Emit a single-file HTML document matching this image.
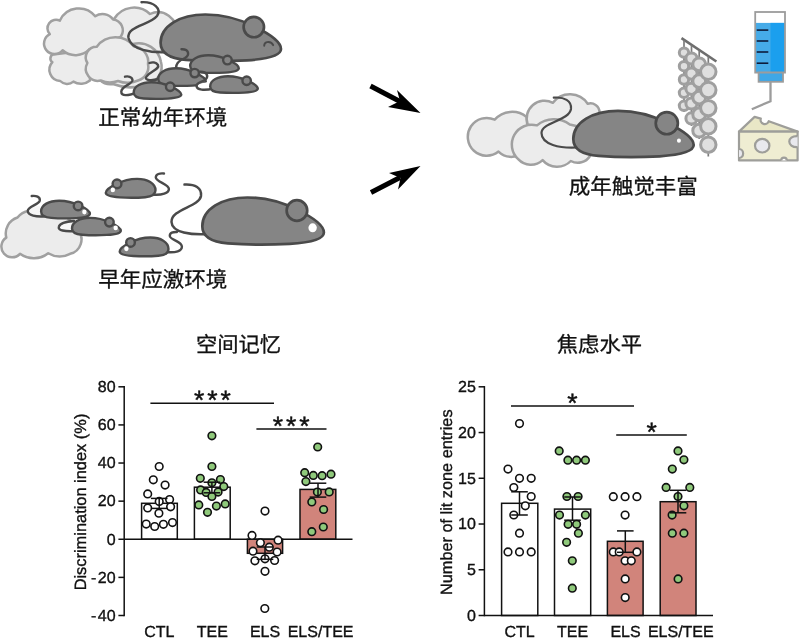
<!DOCTYPE html>
<html><head><meta charset="utf-8"><title>figure</title>
<style>html,body{margin:0;padding:0;background:#fff;overflow:hidden}svg{display:block;position:absolute;left:0;top:0;font-family:"Liberation Sans",sans-serif;}svg{will-change:transform}text{text-rendering:geometricPrecision}</style>
</head><body>
<svg width="799" height="643" viewBox="0 0 799 643">
<rect width="799" height="643" fill="#fff"/>
<defs>
<path id="mb" vector-effect="non-scaling-stroke" d="M0,30 C0,12 20,0 46,0 C64,0 82,5 97,13 C111,20 124,28 124,36.5 C124,43 112,47 89,48.5 C70,49.5 45,49.5 26,48 C8,46.5 0,40 0,30 Z"/>
</defs>
<path d="M114.0,19.0 A23.3,23.3 0 0 1 150.0,14.0 A18.2,18.2 0 0 1 176.0,33.0 A14.1,14.1 0 0 1 172.0,52.0 A327.0,327.0 0 0 1 120.0,47.0 A17.9,17.9 0 0 1 114.0,19.0 Z" fill="#ececec" stroke="#a0a0a0" stroke-width="2.50" stroke-linejoin="round"/>
<path d="M53.2,54.4 A218.4,218.4 0 0 1 88.0,52.0 A178.8,178.8 0 0 1 90.0,80.5 A14.3,14.3 0 0 1 73.4,81.6 A9.6,9.6 0 0 1 60.2,81.0 A11.2,11.2 0 0 1 52.4,62.2 A4.4,4.4 0 0 1 53.2,54.4 Z" fill="#ececec" stroke="#a0a0a0" stroke-width="2.50" stroke-linejoin="round"/>
<path d="M49.8,34.2 A8.6,8.6 0 0 1 59.9,20.6 A20.9,20.9 0 0 1 95.2,16.3 A13.2,13.2 0 0 1 113.1,19.4 A11.0,11.0 0 0 1 120.9,36.5 A141.2,141.2 0 0 1 89.6,49.2 A19.6,19.6 0 0 1 62.6,50.3 A10.5,10.5 0 1 1 49.8,34.2 Z" fill="#ececec" stroke="#a0a0a0" stroke-width="2.50" stroke-linejoin="round"/>
<path d="M133.0,44.0 A22.6,22.6 0 0 1 161.0,62.0 A17.2,17.2 0 0 1 150.0,83.0 A48.1,48.1 0 0 1 113.0,84.0 A15.0,15.0 0 0 1 100.0,80.0 A305.7,305.7 0 0 1 133.0,44.0 Z" fill="#ececec" stroke="#a0a0a0" stroke-width="2.50" stroke-linejoin="round"/>
<path d="M96.8,46.7 A23.3,23.3 0 0 1 134.0,46.5 A15.2,15.2 0 0 1 148.0,64.0 A14.0,14.0 0 0 1 138.0,80.5 A26.0,26.0 0 0 1 118.0,81.0 A22.5,22.5 0 0 1 100.7,80.5 A12.0,12.0 0 0 1 87.4,63.0 A10.7,10.7 0 0 1 96.8,46.7 Z" fill="#ececec" stroke="#a0a0a0" stroke-width="2.50" stroke-linejoin="round"/>
<path d="M166,52.3 C152,53 131,50 128.5,38 C126.5,26 150,25 157,16 C162,9 154,1.5 141.5,2.2" fill="none" stroke="#4a4a4a" stroke-width="2.40" stroke-linecap="round" stroke-linejoin="round"/>
<path d="M160.6,42.8 C160.6,25.8 180.0,14.5 205.3,14.5 C222.7,14.5 240.2,19.2 254.8,26.8 C268.4,33.4 281.0,41.0 281.0,49.0 C281.0,55.1 269.3,58.9 247.0,60.3 C228.6,61.3 204.3,61.3 185.8,59.9 C168.4,58.4 160.6,52.3 160.6,42.8 Z" fill="#858585" stroke="#4a4a4a" stroke-width="2.70" stroke-linejoin="round"/>
<circle cx="253.81" cy="27.07" r="10.20" fill="#858585" stroke="#4a4a4a" stroke-width="2.70"/>
<path d="M264.2,45.8 C264.2,43.5 265,42.5 267,42.1 C270,41.6 272.2,42.8 273.2,45.2" fill="none" stroke="#4a4a4a" stroke-width="1.9" stroke-linecap="round"/>
<path d="M176,68 C176,63 180,60 185,58 C190,55 189,49 181.5,49.3" fill="none" stroke="#4a4a4a" stroke-width="2.40" stroke-linecap="round" stroke-linejoin="round"/>
<path d="M190.2,66.0 C190.2,59.5 198.0,55.2 208.2,55.2 C215.3,55.2 222.3,57.0 228.2,59.9 C233.7,62.4 238.8,65.3 238.8,68.3 C238.8,70.6 234.1,72.1 225.1,72.6 C217.6,73.0 207.8,73.0 200.4,72.4 C193.3,71.9 190.2,69.6 190.2,66.0 Z" fill="#858585" stroke="#4a4a4a" stroke-width="2.40" stroke-linejoin="round"/>
<circle cx="227.43" cy="60.05" r="4.31" fill="#858585" stroke="#4a4a4a" stroke-width="2.40"/>
<path d="M162,78 C150,82 143,80 147,76 C151,71 160,69 158,65 C156,62 152,62 149.5,63" fill="none" stroke="#4a4a4a" stroke-width="2.40" stroke-linecap="round" stroke-linejoin="round"/>
<path d="M158.2,79.0 C158.2,72.5 165.9,68.2 175.9,68.2 C182.8,68.2 189.7,70.0 195.4,72.9 C200.8,75.4 205.8,78.3 205.8,81.3 C205.8,83.6 201.2,85.1 192.4,85.6 C185.1,86.0 175.5,86.0 168.2,85.4 C161.3,84.9 158.2,82.6 158.2,79.0 Z" fill="#858585" stroke="#4a4a4a" stroke-width="2.40" stroke-linejoin="round"/>
<circle cx="194.67" cy="73.05" r="4.22" fill="#858585" stroke="#4a4a4a" stroke-width="2.40"/>
<path d="M197,84 L209,82 L210,88.5 L200,89.8 Z" fill="#fff"/>
<path d="M214,88.3 C204,91 197,90 196.5,86 C196,82.5 203,82 206,79 C208.5,76 207,71.5 200,71.8" fill="none" stroke="#4a4a4a" stroke-width="2.40" stroke-linecap="round" stroke-linejoin="round"/>
<path d="M210.2,86.4 C210.2,80.3 217.9,76.2 227.9,76.2 C234.8,76.2 241.7,77.9 247.4,80.6 C252.8,83.0 257.8,85.7 257.8,88.6 C257.8,90.8 253.2,92.1 244.4,92.6 C237.1,93.0 227.5,93.0 220.2,92.5 C213.3,92.0 210.2,89.8 210.2,86.4 Z" fill="#858585" stroke="#4a4a4a" stroke-width="2.40" stroke-linejoin="round"/>
<circle cx="246.67" cy="80.77" r="4.22" fill="#858585" stroke="#4a4a4a" stroke-width="2.40"/>
<path d="M137,92.3 C128,96 121,96.5 121.3,91.5 C121.5,86 133,84 132.5,80 C132,76.5 128,76 125,76.7" fill="none" stroke="#4a4a4a" stroke-width="2.40" stroke-linecap="round" stroke-linejoin="round"/>
<path d="M133.7,92.4 C133.7,86.3 141.4,82.2 151.4,82.2 C158.3,82.2 165.2,83.9 170.9,86.6 C176.3,89.0 181.3,91.7 181.3,94.6 C181.3,96.8 176.7,98.1 167.9,98.6 C160.6,99.0 151.0,99.0 143.7,98.5 C136.8,98.0 133.7,95.8 133.7,92.4 Z" fill="#858585" stroke="#4a4a4a" stroke-width="2.40" stroke-linejoin="round"/>
<circle cx="170.17" cy="86.77" r="4.22" fill="#858585" stroke="#4a4a4a" stroke-width="2.40"/>
<text x="98.30" y="125.20" font-size="21.5" fill="#111" stroke="#111" stroke-width="0.3" style="font-family:'Liberation Sans','Noto Sans CJK SC',sans-serif">正常幼年环境</text>
<path d="M20.0,253.8 A10.7,10.7 0 1 1 6.3,237.6 A16.7,16.7 0 0 1 17.5,217.5 A17.5,17.5 0 0 1 41.3,213.8 A95.0,95.0 0 0 1 64.0,214.5 A87.3,87.3 0 0 1 78.0,230.0 A14.7,14.7 0 0 1 70.1,253.8 A22.5,22.5 0 0 1 48.2,253.2 A23.1,23.1 0 0 1 20.0,253.8 Z" fill="#ececec" stroke="#a0a0a0" stroke-width="2.50" stroke-linejoin="round"/>
<path d="M42,216.5 C36,217 28,215.5 27.8,211 C28,208 33,206.5 40,206 Z" fill="#f6f6f6" stroke="none"/>
<path d="M45,216.3 C36,217 28,215.5 27.8,211 C27.6,206 39,205 39.8,200.5 C40.3,197 36,195.3 31.7,196" fill="none" stroke="#4a4a4a" stroke-width="2.40" stroke-linecap="round" stroke-linejoin="round"/>
<path d="M41.1,211.5 C41.1,205.0 49.0,200.7 59.2,200.7 C66.3,200.7 73.4,202.5 79.3,205.4 C84.8,207.9 89.9,210.8 89.9,213.8 C89.9,216.1 85.2,217.6 76.1,218.1 C68.6,218.5 58.8,218.5 51.3,217.9 C44.2,217.4 41.1,215.1 41.1,211.5 Z" fill="#858585" stroke="#4a4a4a" stroke-width="2.40" stroke-linejoin="round"/>
<circle cx="78.09" cy="205.91" r="4.33" fill="#858585" stroke="#4a4a4a" stroke-width="2.40"/>
<ellipse cx="84.39" cy="212.01" rx="2.20" ry="2.40" fill="#fff"/>
<path d="M72,231 C64,232 58,230 58.8,227 C59.5,223.5 66,221.5 74,221 Z" fill="#f8f8f8" stroke="none"/>
<path d="M76,231 C64,232 58,230 58.8,227 C59.5,223.5 66,221.5 74,221" fill="none" stroke="#4a4a4a" stroke-width="2.40" stroke-linecap="round" stroke-linejoin="round"/>
<path d="M72.0,228.4 C72.0,222.1 79.9,217.9 90.1,217.9 C97.2,217.9 104.3,219.7 110.2,222.5 C115.7,224.9 120.8,227.7 120.8,230.7 C120.8,233.0 116.1,234.4 107.0,234.9 C99.5,235.3 89.7,235.3 82.2,234.7 C75.1,234.2 72.0,231.9 72.0,228.4 Z" fill="#858585" stroke="#4a4a4a" stroke-width="2.40" stroke-linejoin="round"/>
<circle cx="109.39" cy="222.11" r="4.33" fill="#858585" stroke="#4a4a4a" stroke-width="2.40"/>
<ellipse cx="115.68" cy="227.90" rx="2.20" ry="2.40" fill="#fff"/>
<path d="M152,194.5 C162,195.5 169,193 168.9,189 C168.8,184 156,182 155.8,177.5 C155.7,174 160,173 164,173.5" fill="none" stroke="#4a4a4a" stroke-width="2.40" stroke-linecap="round" stroke-linejoin="round"/>
<path d="M155.5,190.3 C155.5,183.5 147.5,178.9 137.1,178.9 C129.8,178.9 122.6,180.8 116.6,183.9 C111.0,186.5 105.8,189.6 105.8,192.8 C105.8,195.3 110.6,196.8 119.8,197.4 C127.4,197.8 137.5,197.8 145.1,197.2 C152.3,196.6 155.5,194.2 155.5,190.3 Z" fill="#858585" stroke="#4a4a4a" stroke-width="2.40" stroke-linejoin="round"/>
<circle cx="117.02" cy="183.86" r="4.41" fill="#858585" stroke="#4a4a4a" stroke-width="2.40"/>
<ellipse cx="112.81" cy="189.97" rx="2.20" ry="2.40" fill="#fff"/>
<path d="M166,252 C176,253 182,251 181.9,246.5 C181.8,241 170,240 169.8,236 C169.7,232.5 173,231.8 177,232" fill="none" stroke="#4a4a4a" stroke-width="2.40" stroke-linecap="round" stroke-linejoin="round"/>
<path d="M168.5,248.9 C168.5,242.1 160.6,237.5 150.4,237.5 C143.3,237.5 136.2,239.4 130.3,242.5 C124.8,245.1 119.7,248.2 119.7,251.4 C119.7,253.9 124.4,255.4 133.5,256.0 C141.0,256.4 150.8,256.4 158.3,255.8 C165.4,255.2 168.5,252.8 168.5,248.9 Z" fill="#858585" stroke="#4a4a4a" stroke-width="2.40" stroke-linejoin="round"/>
<circle cx="130.52" cy="242.46" r="4.33" fill="#858585" stroke="#4a4a4a" stroke-width="2.40"/>
<ellipse cx="126.39" cy="248.76" rx="2.20" ry="2.40" fill="#fff"/>
<path d="M207,234.2 C192,235 172,233 171.5,222 C171,209 199,207 201,196 C202,188 195,184 184.5,184.6" fill="none" stroke="#4a4a4a" stroke-width="2.50" stroke-linecap="round" stroke-linejoin="round"/>
<path d="M202.3,226.2 C202.3,209.0 221.9,197.5 247.4,197.5 C265.1,197.5 282.7,202.3 297.4,209.9 C311.2,216.6 323.9,224.2 323.9,232.4 C323.9,238.6 312.1,242.4 289.6,243.8 C270.9,244.8 246.4,244.8 227.8,243.3 C210.1,241.9 202.3,235.7 202.3,226.2 Z" fill="#858585" stroke="#4a4a4a" stroke-width="2.70" stroke-linejoin="round"/>
<circle cx="296.93" cy="210.49" r="10.30" fill="#858585" stroke="#4a4a4a" stroke-width="2.70"/>
<ellipse cx="312.62" cy="227.87" rx="4.20" ry="4.50" fill="#fff"/>
<text x="98.30" y="287.20" font-size="21.5" fill="#111" stroke="#111" stroke-width="0.3" style="font-family:'Liberation Sans','Noto Sans CJK SC',sans-serif">早年应激环境</text>
<path d="M370.5,86 L400,101.5" stroke="#000" stroke-width="5" fill="none"/>
<path d="M420.5,113 L397,90 L400,101 L388,107 Z" fill="#000"/>
<path d="M371,192.5 L400,177.5" stroke="#000" stroke-width="5" fill="none"/>
<path d="M420.5,166 L389,173 L400.5,178 L398,189.5 Z" fill="#000"/>
<path d="M494.7,119.7 A23.2,23.2 0 0 1 526.6,116.9 A138.4,138.4 0 0 1 526.0,150.0 A18.7,18.7 0 0 1 498.5,151.6 A18.9,18.9 0 1 1 494.7,119.7 Z" fill="#ececec" stroke="#a0a0a0" stroke-width="2.50" stroke-linejoin="round"/>
<path d="M527.6,124.4 A17.9,17.9 0 0 1 552.9,102.8 A21.3,21.3 0 0 1 587.7,103.8 A9.0,9.0 0 0 1 599.5,112.0 A155.8,155.8 0 0 1 590.0,135.0 A396.2,396.2 0 0 1 527.6,124.4 Z" fill="#ececec" stroke="#a0a0a0" stroke-width="2.50" stroke-linejoin="round"/>
<path d="M518.2,159.2 A19.9,19.9 0 0 1 537.0,125.4 A26.9,26.9 0 0 1 569.8,124.4 A131.2,131.2 0 0 1 590.0,130.0 A162.8,162.8 0 0 1 590.0,156.0 A14.4,14.4 0 0 1 570.8,161.0 A19.1,19.1 0 0 1 542.6,160.1 A17.1,17.1 0 0 1 518.2,159.2 Z" fill="#ececec" stroke="#a0a0a0" stroke-width="2.50" stroke-linejoin="round"/>
<path d="M577,147.5 C560,148.5 541.5,144.5 541.5,133 C541.5,122 569,121 571,109 C572,101 564,96.5 553.8,97.7" fill="none" stroke="#4a4a4a" stroke-width="2.20" stroke-linecap="round" stroke-linejoin="round"/>
<path d="M573.3,139.0 C573.3,122.1 592.7,110.8 618.0,110.8 C635.4,110.8 652.9,115.5 667.5,123.0 C681.1,129.6 693.7,137.1 693.7,145.1 C693.7,151.2 682.0,154.9 659.7,156.3 C641.3,157.3 617.0,157.3 598.5,155.9 C581.1,154.5 573.3,148.4 573.3,139.0 Z" fill="#858585" stroke="#4a4a4a" stroke-width="2.70" stroke-linejoin="round"/>
<circle cx="666.80" cy="123.19" r="11.07" fill="#858585" stroke="#4a4a4a" stroke-width="2.70"/>
<ellipse cx="678.94" cy="140.65" rx="2.00" ry="2.10" fill="#fff"/>
<text x="568.80" y="193.60" font-size="21.5" fill="#111" stroke="#111" stroke-width="0.3" style="font-family:'Liberation Sans','Noto Sans CJK SC',sans-serif">成年触觉丰富</text>
<path d="M681.5,38.2 L716.4,61.5" stroke="#6e6e6e" stroke-width="2.6" fill="none"/>
<path d="M684.0,40.5 L684.0,112.0" stroke="#7c7c7c" stroke-width="1.7"/>
<circle cx="684.0" cy="52.6" r="4.7" fill="#dfdfdf" stroke="#9f9f9f" stroke-width="3"/>
<circle cx="684.0" cy="66.2" r="4.7" fill="#dfdfdf" stroke="#9f9f9f" stroke-width="3"/>
<circle cx="684.0" cy="79.5" r="4.7" fill="#dfdfdf" stroke="#9f9f9f" stroke-width="3"/>
<circle cx="684.0" cy="92.8" r="4.7" fill="#dfdfdf" stroke="#9f9f9f" stroke-width="3"/>
<circle cx="684.0" cy="105.8" r="4.7" fill="#dfdfdf" stroke="#9f9f9f" stroke-width="3"/>
<path d="M691.5,45.5 L691.5,126.0" stroke="#7c7c7c" stroke-width="1.7"/>
<circle cx="691.5" cy="58.5" r="5.6" fill="#dfdfdf" stroke="#9f9f9f" stroke-width="3"/>
<circle cx="691.5" cy="73.6" r="5.6" fill="#dfdfdf" stroke="#9f9f9f" stroke-width="3"/>
<circle cx="691.5" cy="88.8" r="5.6" fill="#dfdfdf" stroke="#9f9f9f" stroke-width="3"/>
<circle cx="691.5" cy="103.5" r="5.6" fill="#dfdfdf" stroke="#9f9f9f" stroke-width="3"/>
<circle cx="691.5" cy="118.4" r="5.6" fill="#dfdfdf" stroke="#9f9f9f" stroke-width="3"/>
<path d="M699.2,50.5 L699.2,139.0" stroke="#7c7c7c" stroke-width="1.7"/>
<circle cx="699.2" cy="64.3" r="6.4" fill="#dfdfdf" stroke="#9f9f9f" stroke-width="3"/>
<circle cx="699.2" cy="81.1" r="6.4" fill="#dfdfdf" stroke="#9f9f9f" stroke-width="3"/>
<circle cx="699.2" cy="97.6" r="6.4" fill="#dfdfdf" stroke="#9f9f9f" stroke-width="3"/>
<circle cx="699.2" cy="114.4" r="6.4" fill="#dfdfdf" stroke="#9f9f9f" stroke-width="3"/>
<circle cx="699.2" cy="130.7" r="6.4" fill="#dfdfdf" stroke="#9f9f9f" stroke-width="3"/>
<path d="M708.3,56.5 L708.3,156.5" stroke="#7c7c7c" stroke-width="1.7"/>
<circle cx="708.3" cy="71.8" r="7.7" fill="#dfdfdf" stroke="#9f9f9f" stroke-width="3"/>
<circle cx="708.3" cy="90.0" r="7.7" fill="#dfdfdf" stroke="#9f9f9f" stroke-width="3"/>
<circle cx="708.3" cy="108.1" r="7.7" fill="#dfdfdf" stroke="#9f9f9f" stroke-width="3"/>
<circle cx="708.3" cy="126.3" r="7.7" fill="#dfdfdf" stroke="#9f9f9f" stroke-width="3"/>
<circle cx="708.3" cy="144.7" r="7.7" fill="#dfdfdf" stroke="#9f9f9f" stroke-width="3"/>
<rect x="755.2" y="12" width="29.8" height="60.6" fill="#fff"/>
<rect x="755.2" y="22.9" width="29.8" height="49.7" fill="#46abe8"/>
<rect x="770.5" y="22.9" width="14.5" height="49.7" fill="#1b9fee"/>
<path d="M756.7,30.1 L768.3,30.1" stroke="#0d1b3a" stroke-width="1.6"/>
<path d="M756.7,41.0 L768.3,41.0" stroke="#0d1b3a" stroke-width="1.6"/>
<path d="M756.7,52.0 L768.3,52.0" stroke="#0d1b3a" stroke-width="1.6"/>
<path d="M756.7,63.2 L768.3,63.2" stroke="#0d1b3a" stroke-width="1.6"/>
<rect x="755.2" y="12" width="29.8" height="60.6" fill="none" stroke="#9c9c9c" stroke-width="1.8"/>
<rect x="758.6" y="72.6" width="24.4" height="9.2" fill="#3fa7e6" stroke="#9c9c9c" stroke-width="1.8"/>
<path d="M770.5,82 L770.5,101.2 L751.8,109.2" fill="none" stroke="#9c9c9c" stroke-width="2.3"/>
<path d="M739,131.6 L754.6,116.9 L760.8,118.6 A3.6,3.6 0 0 0 768.8,121.2 L797.6,131.6 Z" fill="#e9e7c6" stroke="#9e9e9a" stroke-width="2.2" stroke-linejoin="round"/>
<rect x="739" y="131.6" width="58.6" height="28.8" fill="#efedd2" stroke="#9e9e9a" stroke-width="2.2" stroke-linejoin="round"/>
<ellipse cx="762.2" cy="145.7" rx="7.2" ry="6.8" fill="#e9e9ee" stroke="#9e9e9a" stroke-width="2.2"/>
<path d="M797.6,136.2 C786.5,135.5 786.5,147.6 797.6,147.2" fill="#e9e9ee" stroke="#9e9e9a" stroke-width="2.2"/>
<path d="M739,149 C744.5,149 744.5,158 739,158" fill="#e9e9ee" stroke="#9e9e9a" stroke-width="2.2"/>
<path d="M781.2,160.4 A2.8,2.8 0 0 1 786.8,160.4" fill="#fff" stroke="#9e9e9a" stroke-width="2.2"/>
<text x="195.90" y="352.20" font-size="21.3" fill="#111" stroke="#111" stroke-width="0.3" style="font-family:'Liberation Sans','Noto Sans CJK SC',sans-serif">空间记忆</text>
<path d="M124.20,386.05 L124.20,616.25" stroke="#111" stroke-width="1.50" fill="none"/>
<path d="M118.40,386.80 L124.20,386.80" stroke="#111" stroke-width="1.50" fill="none"/>
<text transform="translate(115.60,392.10) scale(1.000,1)" text-anchor="end" font-size="16.00" fill="#111" stroke="#111" stroke-width="0.35">80</text>
<path d="M118.40,424.92 L124.20,424.92" stroke="#111" stroke-width="1.50" fill="none"/>
<text transform="translate(115.60,430.22) scale(1.000,1)" text-anchor="end" font-size="16.00" fill="#111" stroke="#111" stroke-width="0.35">60</text>
<path d="M118.40,463.03 L124.20,463.03" stroke="#111" stroke-width="1.50" fill="none"/>
<text transform="translate(115.60,468.33) scale(1.000,1)" text-anchor="end" font-size="16.00" fill="#111" stroke="#111" stroke-width="0.35">40</text>
<path d="M118.40,501.15 L124.20,501.15" stroke="#111" stroke-width="1.50" fill="none"/>
<text transform="translate(115.60,506.45) scale(1.000,1)" text-anchor="end" font-size="16.00" fill="#111" stroke="#111" stroke-width="0.35">20</text>
<path d="M118.40,539.27 L124.20,539.27" stroke="#111" stroke-width="1.50" fill="none"/>
<text transform="translate(115.60,544.57) scale(1.000,1)" text-anchor="end" font-size="16.00" fill="#111" stroke="#111" stroke-width="0.35">0</text>
<path d="M118.40,577.38 L124.20,577.38" stroke="#111" stroke-width="1.50" fill="none"/>
<text transform="translate(115.60,582.68) scale(1.000,1)" text-anchor="end" font-size="16.00" fill="#111" stroke="#111" stroke-width="0.35">-<tspan dx="1.6">20</tspan></text>
<path d="M118.40,615.50 L124.20,615.50" stroke="#111" stroke-width="1.50" fill="none"/>
<text transform="translate(115.60,620.80) scale(1.000,1)" text-anchor="end" font-size="16.00" fill="#111" stroke="#111" stroke-width="0.35">-<tspan dx="1.6">40</tspan></text>
<text transform="translate(86.30,502.00) rotate(-90) scale(1.000,1)" text-anchor="middle" font-size="16.40" fill="#111" stroke="#111" stroke-width="0.35">Discrimination index (%)</text>
<rect x="141.60" y="503.30" width="35.70" height="35.90" fill="#fff" stroke="#111" stroke-width="1.50"/>
<rect x="194.40" y="487.20" width="35.80" height="52.00" fill="#fff" stroke="#111" stroke-width="1.50"/>
<rect x="247.40" y="539.20" width="35.20" height="14.10" fill="#d1847b" stroke="#111" stroke-width="1.50"/>
<rect x="300.00" y="489.40" width="35.80" height="49.80" fill="#d1847b" stroke="#111" stroke-width="1.50"/>
<path d="M124.20,539.20 L352.50,539.20" stroke="#111" stroke-width="1.50" fill="none"/>
<circle cx="159.2" cy="466.5" r="3.8" fill="#fff" stroke="#111" stroke-width="1.6"/>
<circle cx="153.3" cy="479.8" r="3.8" fill="#fff" stroke="#111" stroke-width="1.6"/>
<circle cx="165.1" cy="485.1" r="3.8" fill="#fff" stroke="#111" stroke-width="1.6"/>
<circle cx="147.7" cy="493.9" r="3.8" fill="#fff" stroke="#111" stroke-width="1.6"/>
<circle cx="169.6" cy="499.5" r="3.8" fill="#fff" stroke="#111" stroke-width="1.6"/>
<circle cx="159.2" cy="501.4" r="3.8" fill="#fff" stroke="#111" stroke-width="1.6"/>
<circle cx="147.7" cy="507.9" r="3.8" fill="#fff" stroke="#111" stroke-width="1.6"/>
<circle cx="170.6" cy="506.8" r="3.8" fill="#fff" stroke="#111" stroke-width="1.6"/>
<circle cx="158.9" cy="513.2" r="3.8" fill="#fff" stroke="#111" stroke-width="1.6"/>
<circle cx="146.2" cy="524.1" r="3.8" fill="#fff" stroke="#111" stroke-width="1.6"/>
<circle cx="154.7" cy="526.5" r="3.8" fill="#fff" stroke="#111" stroke-width="1.6"/>
<circle cx="163.4" cy="524.3" r="3.8" fill="#fff" stroke="#111" stroke-width="1.6"/>
<circle cx="172.5" cy="522.6" r="3.8" fill="#fff" stroke="#111" stroke-width="1.6"/>
<circle cx="211.9" cy="435.8" r="3.8" fill="#8fc97b" stroke="#111" stroke-width="1.6"/>
<circle cx="211.9" cy="466.5" r="3.8" fill="#8fc97b" stroke="#111" stroke-width="1.6"/>
<circle cx="200.3" cy="478.3" r="3.8" fill="#8fc97b" stroke="#111" stroke-width="1.6"/>
<circle cx="220.4" cy="479.5" r="3.8" fill="#8fc97b" stroke="#111" stroke-width="1.6"/>
<circle cx="211.9" cy="482.8" r="3.8" fill="#8fc97b" stroke="#111" stroke-width="1.6"/>
<circle cx="223.8" cy="486.6" r="3.8" fill="#8fc97b" stroke="#111" stroke-width="1.6"/>
<circle cx="200.6" cy="489.9" r="3.8" fill="#8fc97b" stroke="#111" stroke-width="1.6"/>
<circle cx="206.2" cy="492.4" r="3.8" fill="#8fc97b" stroke="#111" stroke-width="1.6"/>
<circle cx="218.1" cy="492.1" r="3.8" fill="#8fc97b" stroke="#111" stroke-width="1.6"/>
<circle cx="211.9" cy="496.5" r="3.8" fill="#8fc97b" stroke="#111" stroke-width="1.6"/>
<circle cx="198.8" cy="504.9" r="3.8" fill="#8fc97b" stroke="#111" stroke-width="1.6"/>
<circle cx="216.4" cy="506.1" r="3.8" fill="#8fc97b" stroke="#111" stroke-width="1.6"/>
<circle cx="225.2" cy="503.9" r="3.8" fill="#8fc97b" stroke="#111" stroke-width="1.6"/>
<circle cx="207.5" cy="512.3" r="3.8" fill="#8fc97b" stroke="#111" stroke-width="1.6"/>
<circle cx="265.0" cy="511.1" r="3.8" fill="#fff" stroke="#111" stroke-width="1.6"/>
<circle cx="252.0" cy="535.4" r="3.8" fill="#fff" stroke="#111" stroke-width="1.6"/>
<circle cx="278.1" cy="540.2" r="3.8" fill="#fff" stroke="#111" stroke-width="1.6"/>
<circle cx="260.4" cy="542.8" r="3.8" fill="#fff" stroke="#111" stroke-width="1.6"/>
<circle cx="269.3" cy="547.2" r="3.8" fill="#fff" stroke="#111" stroke-width="1.6"/>
<circle cx="253.0" cy="551.2" r="3.8" fill="#fff" stroke="#111" stroke-width="1.6"/>
<circle cx="277.1" cy="552.0" r="3.8" fill="#fff" stroke="#111" stroke-width="1.6"/>
<circle cx="265.0" cy="558.8" r="3.8" fill="#fff" stroke="#111" stroke-width="1.6"/>
<circle cx="254.9" cy="560.8" r="3.8" fill="#fff" stroke="#111" stroke-width="1.6"/>
<circle cx="274.6" cy="560.5" r="3.8" fill="#fff" stroke="#111" stroke-width="1.6"/>
<circle cx="265.0" cy="571.3" r="3.8" fill="#fff" stroke="#111" stroke-width="1.6"/>
<circle cx="264.8" cy="608.5" r="3.8" fill="#fff" stroke="#111" stroke-width="1.6"/>
<circle cx="317.7" cy="447.0" r="3.8" fill="#8fc97b" stroke="#111" stroke-width="1.6"/>
<circle cx="304.7" cy="472.7" r="3.8" fill="#8fc97b" stroke="#111" stroke-width="1.6"/>
<circle cx="313.3" cy="475.4" r="3.8" fill="#8fc97b" stroke="#111" stroke-width="1.6"/>
<circle cx="322.1" cy="475.7" r="3.8" fill="#8fc97b" stroke="#111" stroke-width="1.6"/>
<circle cx="331.0" cy="474.2" r="3.8" fill="#8fc97b" stroke="#111" stroke-width="1.6"/>
<circle cx="305.9" cy="481.6" r="3.8" fill="#8fc97b" stroke="#111" stroke-width="1.6"/>
<circle cx="317.4" cy="492.1" r="3.8" fill="#8fc97b" stroke="#111" stroke-width="1.6"/>
<circle cx="329.2" cy="491.9" r="3.8" fill="#8fc97b" stroke="#111" stroke-width="1.6"/>
<circle cx="311.8" cy="501.9" r="3.8" fill="#8fc97b" stroke="#111" stroke-width="1.6"/>
<circle cx="323.6" cy="509.5" r="3.8" fill="#8fc97b" stroke="#111" stroke-width="1.6"/>
<circle cx="323.3" cy="527.0" r="3.8" fill="#8fc97b" stroke="#111" stroke-width="1.6"/>
<circle cx="311.8" cy="531.7" r="3.8" fill="#8fc97b" stroke="#111" stroke-width="1.6"/>
<path d="M159.20,498.40 L159.20,508.40" stroke="#111" stroke-width="1.50" fill="none"/>
<path d="M150.90,498.40 L167.50,498.40" stroke="#111" stroke-width="1.50" fill="none"/>
<path d="M150.90,508.40 L167.50,508.40" stroke="#111" stroke-width="1.50" fill="none"/>
<path d="M211.90,482.20 L211.90,492.80" stroke="#111" stroke-width="1.50" fill="none"/>
<path d="M203.60,482.20 L220.20,482.20" stroke="#111" stroke-width="1.50" fill="none"/>
<path d="M203.60,492.80 L220.20,492.80" stroke="#111" stroke-width="1.50" fill="none"/>
<path d="M265.00,547.00 L265.00,559.30" stroke="#111" stroke-width="1.50" fill="none"/>
<path d="M256.70,547.00 L273.30,547.00" stroke="#111" stroke-width="1.50" fill="none"/>
<path d="M256.70,559.30 L273.30,559.30" stroke="#111" stroke-width="1.50" fill="none"/>
<path d="M318.00,483.20 L318.00,497.10" stroke="#111" stroke-width="1.50" fill="none"/>
<path d="M309.70,483.20 L326.30,483.20" stroke="#111" stroke-width="1.50" fill="none"/>
<path d="M309.70,497.10 L326.30,497.10" stroke="#111" stroke-width="1.50" fill="none"/>
<path d="M150.40,403.30 L274.00,403.30" stroke="#111" stroke-width="1.50" fill="none"/>
<path d="M256.40,428.90 L326.50,428.90" stroke="#111" stroke-width="1.50" fill="none"/>
<text transform="translate(199.20,409.10)" text-anchor="middle" font-size="26.50" fill="#111" stroke="#111" stroke-width="0.45">*</text>
<text transform="translate(212.40,409.10)" text-anchor="middle" font-size="26.50" fill="#111" stroke="#111" stroke-width="0.45">*</text>
<text transform="translate(225.60,409.10)" text-anchor="middle" font-size="26.50" fill="#111" stroke="#111" stroke-width="0.45">*</text>
<text transform="translate(278.00,434.70)" text-anchor="middle" font-size="26.50" fill="#111" stroke="#111" stroke-width="0.45">*</text>
<text transform="translate(291.20,434.70)" text-anchor="middle" font-size="26.50" fill="#111" stroke="#111" stroke-width="0.45">*</text>
<text transform="translate(304.40,434.70)" text-anchor="middle" font-size="26.50" fill="#111" stroke="#111" stroke-width="0.45">*</text>
<text transform="translate(159.30,637.20) scale(1.000,1)" text-anchor="middle" font-size="16.00" fill="#111" stroke="#111" stroke-width="0.35">CTL</text>
<text transform="translate(212.30,637.20) scale(1.000,1)" text-anchor="middle" font-size="16.00" fill="#111" stroke="#111" stroke-width="0.35">TEE</text>
<text transform="translate(265.00,637.20) scale(1.000,1)" text-anchor="middle" font-size="16.00" fill="#111" stroke="#111" stroke-width="0.35">ELS</text>
<text transform="translate(320.60,637.20) scale(1.000,1)" text-anchor="middle" font-size="16.00" fill="#111" stroke="#111" stroke-width="0.35">ELS/TEE</text>
<text x="556.80" y="352.20" font-size="21.3" fill="#111" stroke="#111" stroke-width="0.3" style="font-family:'Liberation Sans','Noto Sans CJK SC',sans-serif">焦虑水平</text>
<path d="M484.40,386.05 L484.40,616.25" stroke="#111" stroke-width="1.50" fill="none"/>
<path d="M478.60,386.80 L484.40,386.80" stroke="#111" stroke-width="1.50" fill="none"/>
<text transform="translate(475.80,392.10) scale(1.000,1)" text-anchor="end" font-size="16.00" fill="#111" stroke="#111" stroke-width="0.35">25</text>
<path d="M478.60,432.54 L484.40,432.54" stroke="#111" stroke-width="1.50" fill="none"/>
<text transform="translate(475.80,437.84) scale(1.000,1)" text-anchor="end" font-size="16.00" fill="#111" stroke="#111" stroke-width="0.35">20</text>
<path d="M478.60,478.28 L484.40,478.28" stroke="#111" stroke-width="1.50" fill="none"/>
<text transform="translate(475.80,483.58) scale(1.000,1)" text-anchor="end" font-size="16.00" fill="#111" stroke="#111" stroke-width="0.35">15</text>
<path d="M478.60,524.02 L484.40,524.02" stroke="#111" stroke-width="1.50" fill="none"/>
<text transform="translate(475.80,529.32) scale(1.000,1)" text-anchor="end" font-size="16.00" fill="#111" stroke="#111" stroke-width="0.35">10</text>
<path d="M478.60,569.76 L484.40,569.76" stroke="#111" stroke-width="1.50" fill="none"/>
<text transform="translate(475.80,575.06) scale(1.000,1)" text-anchor="end" font-size="16.00" fill="#111" stroke="#111" stroke-width="0.35">5</text>
<path d="M478.60,615.50 L484.40,615.50" stroke="#111" stroke-width="1.50" fill="none"/>
<text transform="translate(475.80,620.80) scale(1.000,1)" text-anchor="end" font-size="16.00" fill="#111" stroke="#111" stroke-width="0.35">0</text>
<text transform="translate(451.60,502.20) rotate(-90) scale(1.000,1)" text-anchor="middle" font-size="16.30" fill="#111" stroke="#111" stroke-width="0.35">Number of lit zone entries</text>
<rect x="501.60" y="503.30" width="36.20" height="112.20" fill="#fff" stroke="#111" stroke-width="1.50"/>
<rect x="554.50" y="509.10" width="36.20" height="106.40" fill="#fff" stroke="#111" stroke-width="1.50"/>
<rect x="607.40" y="541.30" width="35.70" height="74.20" fill="#d1847b" stroke="#111" stroke-width="1.50"/>
<rect x="660.20" y="501.70" width="35.80" height="113.80" fill="#d1847b" stroke="#111" stroke-width="1.50"/>
<path d="M484.40,615.50 L713.00,615.50" stroke="#111" stroke-width="1.50" fill="none"/>
<circle cx="519.5" cy="423.6" r="3.8" fill="#fff" stroke="#111" stroke-width="1.6"/>
<circle cx="508.0" cy="469.1" r="3.8" fill="#fff" stroke="#111" stroke-width="1.6"/>
<circle cx="519.5" cy="478.3" r="3.8" fill="#fff" stroke="#111" stroke-width="1.6"/>
<circle cx="531.2" cy="478.3" r="3.8" fill="#fff" stroke="#111" stroke-width="1.6"/>
<circle cx="513.8" cy="487.5" r="3.8" fill="#fff" stroke="#111" stroke-width="1.6"/>
<circle cx="531.2" cy="496.5" r="3.8" fill="#fff" stroke="#111" stroke-width="1.6"/>
<circle cx="525.3" cy="505.8" r="3.8" fill="#fff" stroke="#111" stroke-width="1.6"/>
<circle cx="513.8" cy="515.0" r="3.8" fill="#fff" stroke="#111" stroke-width="1.6"/>
<circle cx="519.5" cy="533.2" r="3.8" fill="#fff" stroke="#111" stroke-width="1.6"/>
<circle cx="508.0" cy="551.9" r="3.8" fill="#fff" stroke="#111" stroke-width="1.6"/>
<circle cx="519.5" cy="551.9" r="3.8" fill="#fff" stroke="#111" stroke-width="1.6"/>
<circle cx="531.2" cy="551.9" r="3.8" fill="#fff" stroke="#111" stroke-width="1.6"/>
<circle cx="559.2" cy="450.9" r="3.8" fill="#8fc97b" stroke="#111" stroke-width="1.6"/>
<circle cx="567.9" cy="460.2" r="3.8" fill="#8fc97b" stroke="#111" stroke-width="1.6"/>
<circle cx="576.6" cy="460.2" r="3.8" fill="#8fc97b" stroke="#111" stroke-width="1.6"/>
<circle cx="585.4" cy="460.2" r="3.8" fill="#8fc97b" stroke="#111" stroke-width="1.6"/>
<circle cx="566.9" cy="496.5" r="3.8" fill="#8fc97b" stroke="#111" stroke-width="1.6"/>
<circle cx="578.1" cy="496.5" r="3.8" fill="#8fc97b" stroke="#111" stroke-width="1.6"/>
<circle cx="559.5" cy="515.1" r="3.8" fill="#8fc97b" stroke="#111" stroke-width="1.6"/>
<circle cx="585.4" cy="515.1" r="3.8" fill="#8fc97b" stroke="#111" stroke-width="1.6"/>
<circle cx="568.1" cy="524.3" r="3.8" fill="#8fc97b" stroke="#111" stroke-width="1.6"/>
<circle cx="576.6" cy="524.3" r="3.8" fill="#8fc97b" stroke="#111" stroke-width="1.6"/>
<circle cx="578.4" cy="533.2" r="3.8" fill="#8fc97b" stroke="#111" stroke-width="1.6"/>
<circle cx="566.6" cy="542.3" r="3.8" fill="#8fc97b" stroke="#111" stroke-width="1.6"/>
<circle cx="572.3" cy="560.8" r="3.8" fill="#8fc97b" stroke="#111" stroke-width="1.6"/>
<circle cx="572.3" cy="588.2" r="3.8" fill="#8fc97b" stroke="#111" stroke-width="1.6"/>
<circle cx="613.3" cy="496.7" r="3.8" fill="#fff" stroke="#111" stroke-width="1.6"/>
<circle cx="625.1" cy="496.7" r="3.8" fill="#fff" stroke="#111" stroke-width="1.6"/>
<circle cx="636.9" cy="496.7" r="3.8" fill="#fff" stroke="#111" stroke-width="1.6"/>
<circle cx="625.1" cy="515.1" r="3.8" fill="#fff" stroke="#111" stroke-width="1.6"/>
<circle cx="613.3" cy="551.9" r="3.8" fill="#fff" stroke="#111" stroke-width="1.6"/>
<circle cx="619.2" cy="551.9" r="3.8" fill="#fff" stroke="#111" stroke-width="1.6"/>
<circle cx="636.9" cy="551.9" r="3.8" fill="#fff" stroke="#111" stroke-width="1.6"/>
<circle cx="625.1" cy="560.8" r="3.8" fill="#fff" stroke="#111" stroke-width="1.6"/>
<circle cx="631.3" cy="560.8" r="3.8" fill="#fff" stroke="#111" stroke-width="1.6"/>
<circle cx="625.2" cy="578.9" r="3.8" fill="#fff" stroke="#111" stroke-width="1.6"/>
<circle cx="625.2" cy="597.6" r="3.8" fill="#fff" stroke="#111" stroke-width="1.6"/>
<circle cx="678.0" cy="450.9" r="3.8" fill="#8fc97b" stroke="#111" stroke-width="1.6"/>
<circle cx="683.9" cy="459.8" r="3.8" fill="#8fc97b" stroke="#111" stroke-width="1.6"/>
<circle cx="672.3" cy="469.1" r="3.8" fill="#8fc97b" stroke="#111" stroke-width="1.6"/>
<circle cx="666.1" cy="487.4" r="3.8" fill="#8fc97b" stroke="#111" stroke-width="1.6"/>
<circle cx="689.8" cy="487.4" r="3.8" fill="#8fc97b" stroke="#111" stroke-width="1.6"/>
<circle cx="678.0" cy="496.5" r="3.8" fill="#8fc97b" stroke="#111" stroke-width="1.6"/>
<circle cx="683.9" cy="505.8" r="3.8" fill="#8fc97b" stroke="#111" stroke-width="1.6"/>
<circle cx="672.1" cy="515.1" r="3.8" fill="#8fc97b" stroke="#111" stroke-width="1.6"/>
<circle cx="672.3" cy="533.2" r="3.8" fill="#8fc97b" stroke="#111" stroke-width="1.6"/>
<circle cx="683.9" cy="533.2" r="3.8" fill="#8fc97b" stroke="#111" stroke-width="1.6"/>
<circle cx="678.1" cy="578.9" r="3.8" fill="#8fc97b" stroke="#111" stroke-width="1.6"/>
<path d="M519.50,491.80 L519.50,515.00" stroke="#111" stroke-width="1.50" fill="none"/>
<path d="M511.20,491.80 L527.80,491.80" stroke="#111" stroke-width="1.50" fill="none"/>
<path d="M511.20,515.00 L527.80,515.00" stroke="#111" stroke-width="1.50" fill="none"/>
<path d="M572.50,497.00 L572.50,520.20" stroke="#111" stroke-width="1.50" fill="none"/>
<path d="M564.20,497.00 L580.80,497.00" stroke="#111" stroke-width="1.50" fill="none"/>
<path d="M564.20,520.20 L580.80,520.20" stroke="#111" stroke-width="1.50" fill="none"/>
<path d="M625.30,530.90 L625.30,552.30" stroke="#111" stroke-width="1.50" fill="none"/>
<path d="M617.00,530.90 L633.60,530.90" stroke="#111" stroke-width="1.50" fill="none"/>
<path d="M617.00,552.30 L633.60,552.30" stroke="#111" stroke-width="1.50" fill="none"/>
<path d="M678.00,490.30 L678.00,512.80" stroke="#111" stroke-width="1.50" fill="none"/>
<path d="M669.70,490.30 L686.30,490.30" stroke="#111" stroke-width="1.50" fill="none"/>
<path d="M669.70,512.80 L686.30,512.80" stroke="#111" stroke-width="1.50" fill="none"/>
<path d="M511.00,405.90 L634.00,405.90" stroke="#111" stroke-width="1.50" fill="none"/>
<path d="M616.20,435.00 L686.80,435.00" stroke="#111" stroke-width="1.50" fill="none"/>
<text transform="translate(572.50,411.70)" text-anchor="middle" font-size="26.50" fill="#111" stroke="#111" stroke-width="0.45">*</text>
<text transform="translate(651.70,440.80)" text-anchor="middle" font-size="26.50" fill="#111" stroke="#111" stroke-width="0.45">*</text>
<text transform="translate(519.50,637.20) scale(1.000,1)" text-anchor="middle" font-size="16.00" fill="#111" stroke="#111" stroke-width="0.35">CTL</text>
<text transform="translate(572.50,637.20) scale(1.000,1)" text-anchor="middle" font-size="16.00" fill="#111" stroke="#111" stroke-width="0.35">TEE</text>
<text transform="translate(625.50,637.20) scale(1.000,1)" text-anchor="middle" font-size="16.00" fill="#111" stroke="#111" stroke-width="0.35">ELS</text>
<text transform="translate(680.80,637.20) scale(1.000,1)" text-anchor="middle" font-size="16.00" fill="#111" stroke="#111" stroke-width="0.35">ELS/TEE</text>
</svg></body></html>
